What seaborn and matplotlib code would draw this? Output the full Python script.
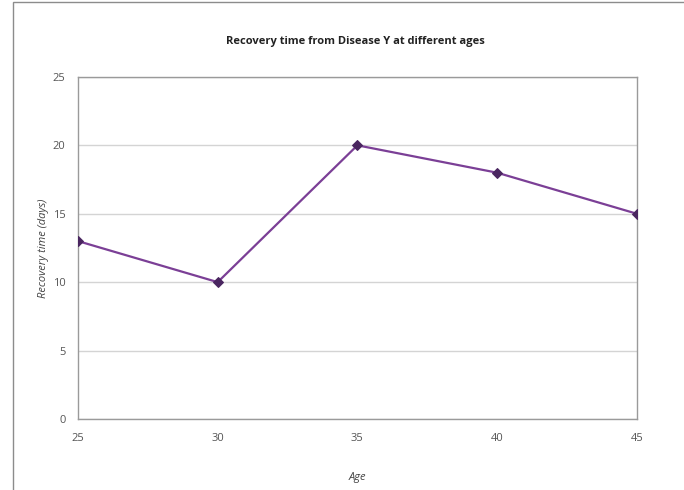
import matplotlib
matplotlib.use("Agg")
import matplotlib.pyplot as plt
import seaborn as sns
import pandas as pd
from matplotlib.patches import Rectangle

# data
ages = [25, 30, 35, 40, 45]
recovery_days = [13, 10, 20, 18, 15]
y_ticks = [0, 5, 10, 15, 20, 25]

df = pd.DataFrame({"Age": ages, "Recovery": recovery_days})

sns.set_style("white")
plt.rcParams['font.family'] = ['Open Sans', 'DejaVu Sans']

fig = plt.figure(figsize=(6.84, 4.90), dpi=100)
ax = fig.add_axes([0.114, 0.145, 0.817, 0.698])

# outer chart border (Excel chart area)
fig.patches.append(Rectangle((13 / 684, -0.01), 1.0, 1.0 - 1.5 / 490 + 0.01,
                             transform=fig.transFigure, fill=False,
                             edgecolor='#8c8c8c', linewidth=1.0))

sns.lineplot(data=df, x="Age", y="Recovery", ax=ax, color='#7b3f96',
             linewidth=1.6, marker='D', markersize=5,
             markerfacecolor='#4a2660', markeredgecolor='#4a2660', zorder=3)

ax.set_xlim(25, 45)
ax.set_ylim(0, 25)
ax.set_xticks(ages)
ax.set_yticks(y_ticks)
ax.yaxis.grid(True, color='#d4d4d4', linewidth=1.0)
ax.set_axisbelow(True)

for side in ['left', 'bottom', 'right', 'top']:
    ax.spines[side].set_visible(True)
    ax.spines[side].set_color('#9a9a9a')
    ax.spines[side].set_linewidth(1.0)

ax.tick_params(axis='both', labelsize=8, colors='#555555', length=0, pad=10)
ax.tick_params(axis='y', length=4, direction='out', color='#9a9a9a', pad=5)

ax.set_xlabel("Age", fontsize=8, style='italic', color='#444444', labelpad=20)
ax.set_ylabel("Recovery time (days)", fontsize=8, style='italic',
              color='#444444', labelpad=3)
fig.text(0.52, 0.915, "Recovery time from Disease Y at different ages",
         ha='center', va='center', fontsize=8, fontweight='bold', color='#222222')

fig.savefig("out.png", dpi=100)
